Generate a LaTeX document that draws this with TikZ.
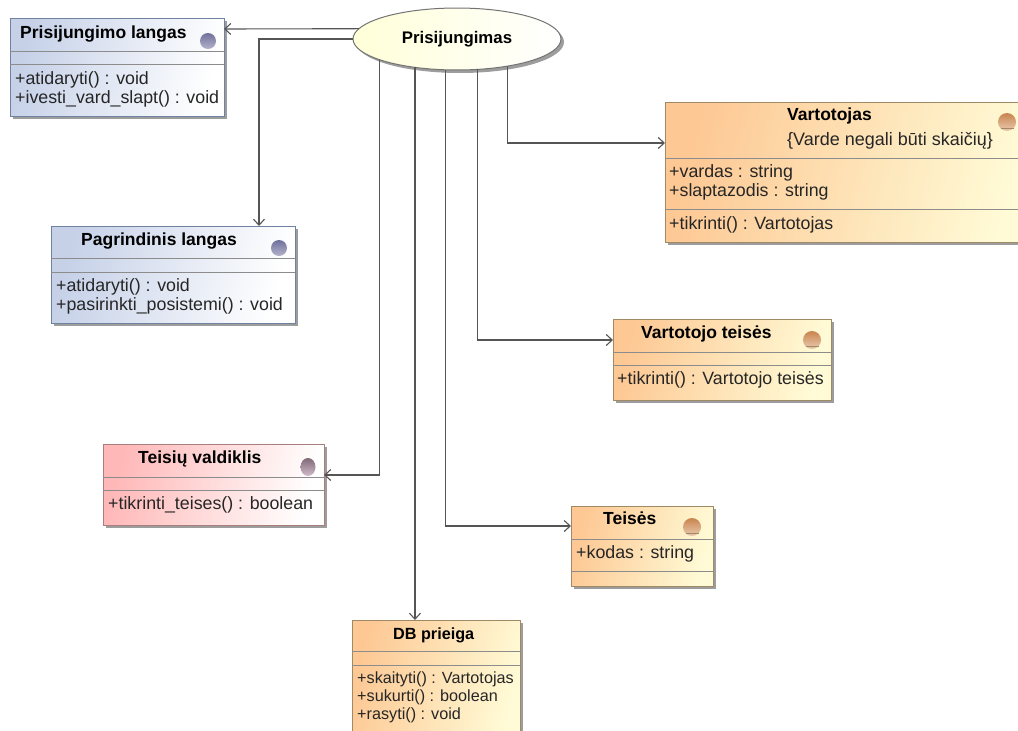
\documentclass[tikz,border=0pt]{standalone}
\usepackage{fontspec}
\setmainfont{Liberation Sans}
\usetikzlibrary{
    arrows.meta,  % open arrow tips
    shadows,  % box shadows
    shapes.geometric,  % ellipse
}
\definecolor{linegray}{HTML}{555555}
\definecolor{blueedge}{HTML}{6F83A0}
\definecolor{orangeedge}{HTML}{A08A66}
\definecolor{rededge}{HTML}{A87E7E}
\definecolor{bluefill}{HTML}{C6D1E8}
\definecolor{orangefill}{HTML}{FDC894}
\definecolor{creamfill}{HTML}{FFFBD6}
\definecolor{redfill}{HTML}{FFB8B8}
\definecolor{paleyellow}{HTML}{FFFFD8}
\definecolor{balltopblue}{HTML}{70709C}
\definecolor{ballbotblue}{HTML}{B4B4CC}
\definecolor{balltoporange}{HTML}{C8844E}
\definecolor{ballbotorange}{HTML}{EBCBB0}
\definecolor{balltopred}{HTML}{806878}
\definecolor{ballbotred}{HTML}{D0BCCC}
\tikzset{
    classbox/.style={anchor=north west, inner sep=0pt, outer sep=0pt, line width=1pt,
        drop shadow={shadow xshift=3pt, shadow yshift=-3pt, fill=black!70, opacity=0.55}},
    bluebox/.style={classbox, draw=blueedge, left color=bluefill, right color=white, shading angle=75},
    orangebox/.style={classbox, draw=orangeedge, left color=orangefill, right color=creamfill, shading angle=75},
    redbox/.style={classbox, draw=rededge, left color=redfill, right color=white, shading angle=75},
    usecase/.style={ellipse, draw=black!55, line width=1pt, inner sep=0pt, outer sep=0pt,
        left color=paleyellow, right color=white, minimum width=208pt, minimum height=62pt,
        drop shadow={shadow xshift=3pt, shadow yshift=-3pt, fill=black!70, opacity=0.55},
        font=\fontsize{16.8}{18}\selectfont\bfseries},
    titletext/.style={anchor=west, inner sep=0pt, text height=13pt, text depth=3pt,
        font=\fontsize{17.5}{18}\selectfont\bfseries},
    membertext/.style={anchor=west, inner sep=0pt, text height=13pt, text depth=3pt, text=black!85,
        font=\fontsize{17.8}{18}\selectfont},
    smalltext/.style={membertext, font=\fontsize{16.2}{18}\selectfont},
    divider/.style={line width=0.9pt, draw=black!45},
    blueball/.style={circle, inner sep=0pt, minimum size=16pt, top color=balltopblue, bottom color=ballbotblue},
    orangeball/.style={circle, inner sep=0pt, minimum size=18pt, top color=balltoporange, bottom color=ballbotorange},
    redball/.style={ellipse, inner sep=0pt, minimum width=15pt, minimum height=18pt, top color=balltopred, bottom color=ballbotred},
    assoc/.style={draw=linegray, line width=1.1pt, -{Straight Barb[length=6pt, width=11pt]}},
}
\begin{document}
\begin{tikzpicture}[x=1pt, y=-1pt]
    \useasboundingbox (0, 0) rectangle (1018, 731);
    \clip (0, 0) rectangle (1018, 731);

    \node[bluebox, minimum width=214pt, minimum height=98pt] (prisijungimo) at (10, 18) {};
    \node[bluebox, minimum width=244pt, minimum height=97pt] (pagrindinis) at (51, 226) {};
    \node[orangebox, minimum width=370pt, minimum height=140pt] (vartotojas) at (665, 102) {};
    \node[orangebox, minimum width=218pt, minimum height=81pt] (teisesvart) at (613, 319) {};
    \node[redbox, minimum width=221pt, minimum height=81pt] (valdiklis) at (103, 444) {};
    \node[orangebox, minimum width=142pt, minimum height=80pt] (teises) at (571, 506) {};
    \node[orangebox, minimum width=168pt, minimum height=120pt] (dbprieiga) at (352, 620) {};
    \node[usecase] (login) at (457, 39) {Prisijungimas};

    % compartments
    \foreach \b/\d in {prisijungimo/33, prisijungimo/46, pagrindinis/32, pagrindinis/46,
        vartotojas/56, vartotojas/107, teisesvart/33, teisesvart/46,
        valdiklis/33, valdiklis/46, teises/33, teises/65, dbprieiga/31, dbprieiga/45}
        \draw[divider] ([yshift=-\d pt]\b.north west) -- ([yshift=-\d pt]\b.north east);

    \node[blueball] (ball1) at (208, 41) {};
    \node[blueball] (ball2) at (279, 248) {};
    \node[orangeball] (ball3) at (1007, 122) {};
    \node[orangeball] (ball4) at (812, 340) {};
    \node[redball] (ball5) at (308, 467) {};
    \node[orangeball] (ball6) at (692, 527) {};
    \foreach \b in {ball3, ball4, ball6}
        \draw[draw=orangeedge, line width=0.8pt] (\b.south west) -- (\b.south east);

    \node[titletext] (title1) at (20, 33) {Prisijungimo langas};
    \node[membertext] (oper1) at (15, 79) {+atidaryti() : void};
    \node[membertext] (oper2) at (15, 98) {+ivesti\_vard\_slapt() : void};

    \node[titletext] (title2) at (81, 240) {Pagrindinis langas};
    \node[membertext] (oper3) at (56, 286) {+atidaryti() : void};
    \node[membertext] (oper4) at (56, 305) {+pasirinkti\_posistemi() : void};

    \node[titletext] (title3) at (787, 115) {Vartotojas};
    \node[membertext, font=\fontsize{18}{18}\selectfont] (constr) at (787, 140) {\{Varde negali būti skaičių\}};
    \node[membertext] (attr1) at (669, 172) {+vardas : string};
    \node[membertext] (attr2) at (669, 191) {+slaptazodis : string};
    \node[membertext] (oper5) at (669, 224) {+tikrinti() : Vartotojas};

    \node[titletext] (title4) at (641, 333) {Vartotojo teisės};
    \node[membertext] (oper6) at (617, 379) {+tikrinti() : Vartotojo teisės};

    \node[titletext] (title5) at (138, 458) {Teisių valdiklis};
    \node[membertext] (oper7) at (108, 504) {+tikrinti\_teises() : boolean};

    \node[titletext] (title6) at (603, 519) {Teisės};
    \node[membertext] (attr3) at (576, 553) {+kodas : string};

    \node[titletext, font=\fontsize{16.2}{18}\selectfont\bfseries] (title7) at (393, 634) {DB prieiga};
    \node[smalltext] (oper8) at (357, 678) {+skaityti() : Vartotojas};
    \node[smalltext] (oper9) at (357, 696) {+sukurti() : boolean};
    \node[smalltext] (oper10) at (357, 714) {+rasyti() : void};

    % associations
    \draw[assoc] (login.174) -- ([yshift=38pt]prisijungimo.east);
    \draw[assoc] (login.west) -| ([xshift=86pt]pagrindinis.north);
    \draw[assoc] (login.195) |- ([yshift=9.5pt]valdiklis.east);
    \draw[assoc] (login.214) -- (login.214 |- dbprieiga.north);
    \draw[assoc] (login.250.3) |- ([yshift=20pt]teises.west);
    \draw[assoc] (login.304.6) |- ([yshift=19.5pt]teisesvart.west);
    \draw[assoc] (login.332.7) |- ([yshift=29pt]vartotojas.west);
\end{tikzpicture}
\end{document}
